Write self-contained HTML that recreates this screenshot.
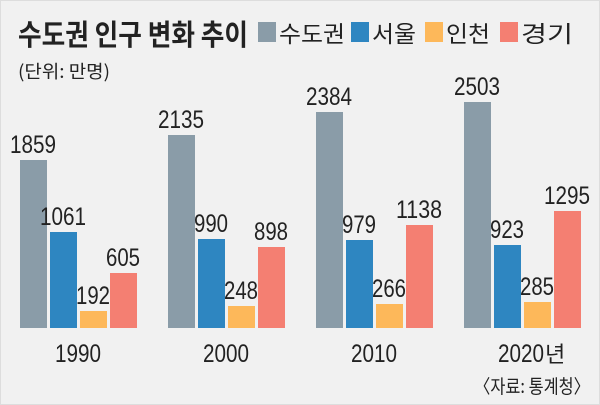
<!DOCTYPE html>
<html><head><meta charset="utf-8"><style>
html,body{margin:0;padding:0;background:#fff}
svg{display:block}
text{font-family:"Liberation Sans","Noto Sans CJK KR",sans-serif;fill:#222}
.k{font-family:"Noto Sans CJK KR",sans-serif}
</style></head><body>
<svg width="600" height="405" viewBox="0 0 600 405" xmlns="http://www.w3.org/2000/svg">
<rect x="0.5" y="0.5" width="599" height="404" fill="#f1f1f1" stroke="#ddd"/>
<text class="k" x="18" y="45" font-size="29" font-weight="bold" fill="#111" textLength="230" lengthAdjust="spacingAndGlyphs">수도권 인구 변화 추이</text>
<rect x="258" y="22" width="18" height="20" fill="#8a9ca8"/><text class="k" x="279" y="42" font-size="23" textLength="66" lengthAdjust="spacingAndGlyphs">수도권</text>
<rect x="351" y="22" width="18" height="20" fill="#2e86c1"/><text class="k" x="372" y="42" font-size="23" textLength="44" lengthAdjust="spacingAndGlyphs">서울</text>
<rect x="425" y="22" width="18" height="20" fill="#fdb85a"/><text class="k" x="446" y="42" font-size="23" textLength="44" lengthAdjust="spacingAndGlyphs">인천</text>
<rect x="500" y="22" width="18" height="20" fill="#f47f72"/><text class="k" x="521" y="42" font-size="23" textLength="52" lengthAdjust="spacingAndGlyphs">경기</text>
<text class="k" x="18" y="78" font-size="18" textLength="92" lengthAdjust="spacingAndGlyphs">(단위: 만명)</text>
<g font-size="25" text-anchor="middle">
<rect x="20" y="160" width="27" height="168" fill="#8a9ca8"/><text x="33" y="153" textLength="46" lengthAdjust="spacingAndGlyphs">1859</text>
<rect x="50" y="232" width="27" height="96" fill="#2e86c1"/><text x="63" y="225" textLength="46" lengthAdjust="spacingAndGlyphs">1061</text>
<rect x="80" y="311" width="27" height="17" fill="#fdb85a"/><text x="93" y="304" textLength="34" lengthAdjust="spacingAndGlyphs">192</text>
<rect x="110" y="273" width="27" height="55" fill="#f47f72"/><text x="123" y="266" textLength="34" lengthAdjust="spacingAndGlyphs">605</text>
<text x="78" y="362" textLength="46" lengthAdjust="spacingAndGlyphs">1990</text>
<rect x="168" y="135" width="27" height="193" fill="#8a9ca8"/><text x="181" y="128" textLength="46" lengthAdjust="spacingAndGlyphs">2135</text>
<rect x="198" y="239" width="27" height="89" fill="#2e86c1"/><text x="211" y="232" textLength="34" lengthAdjust="spacingAndGlyphs">990</text>
<rect x="228" y="306" width="27" height="22" fill="#fdb85a"/><text x="241" y="299" textLength="34" lengthAdjust="spacingAndGlyphs">248</text>
<rect x="258" y="247" width="27" height="81" fill="#f47f72"/><text x="271" y="240" textLength="34" lengthAdjust="spacingAndGlyphs">898</text>
<text x="226" y="362" textLength="46" lengthAdjust="spacingAndGlyphs">2000</text>
<rect x="316" y="112" width="27" height="216" fill="#8a9ca8"/><text x="329" y="105" textLength="46" lengthAdjust="spacingAndGlyphs">2384</text>
<rect x="346" y="240" width="27" height="88" fill="#2e86c1"/><text x="359" y="233" textLength="34" lengthAdjust="spacingAndGlyphs">979</text>
<rect x="376" y="304" width="27" height="24" fill="#fdb85a"/><text x="389" y="297" textLength="34" lengthAdjust="spacingAndGlyphs">266</text>
<rect x="406" y="225" width="27" height="103" fill="#f47f72"/><text x="419" y="218" textLength="46" lengthAdjust="spacingAndGlyphs">1138</text>
<text x="374" y="362" textLength="46" lengthAdjust="spacingAndGlyphs">2010</text>
<rect x="464" y="102" width="27" height="226" fill="#8a9ca8"/><text x="477" y="95" textLength="46" lengthAdjust="spacingAndGlyphs">2503</text>
<rect x="494" y="245" width="27" height="83" fill="#2e86c1"/><text x="507" y="238" textLength="34" lengthAdjust="spacingAndGlyphs">923</text>
<rect x="524" y="302" width="27" height="26" fill="#fdb85a"/><text x="537" y="295" textLength="34" lengthAdjust="spacingAndGlyphs">285</text>
<rect x="554" y="211" width="27" height="117" fill="#f47f72"/><text x="567" y="204" textLength="46" lengthAdjust="spacingAndGlyphs">1295</text>
</g>
<text x="498" y="362" font-size="25" textLength="46" lengthAdjust="spacingAndGlyphs">2020</text>
<text class="k" x="545" y="362" font-size="22">년</text>
<text class="k" x="590" y="393" font-size="19" text-anchor="end" textLength="116" lengthAdjust="spacingAndGlyphs">〈자료: 통계청〉</text>
</svg>
</body></html>
